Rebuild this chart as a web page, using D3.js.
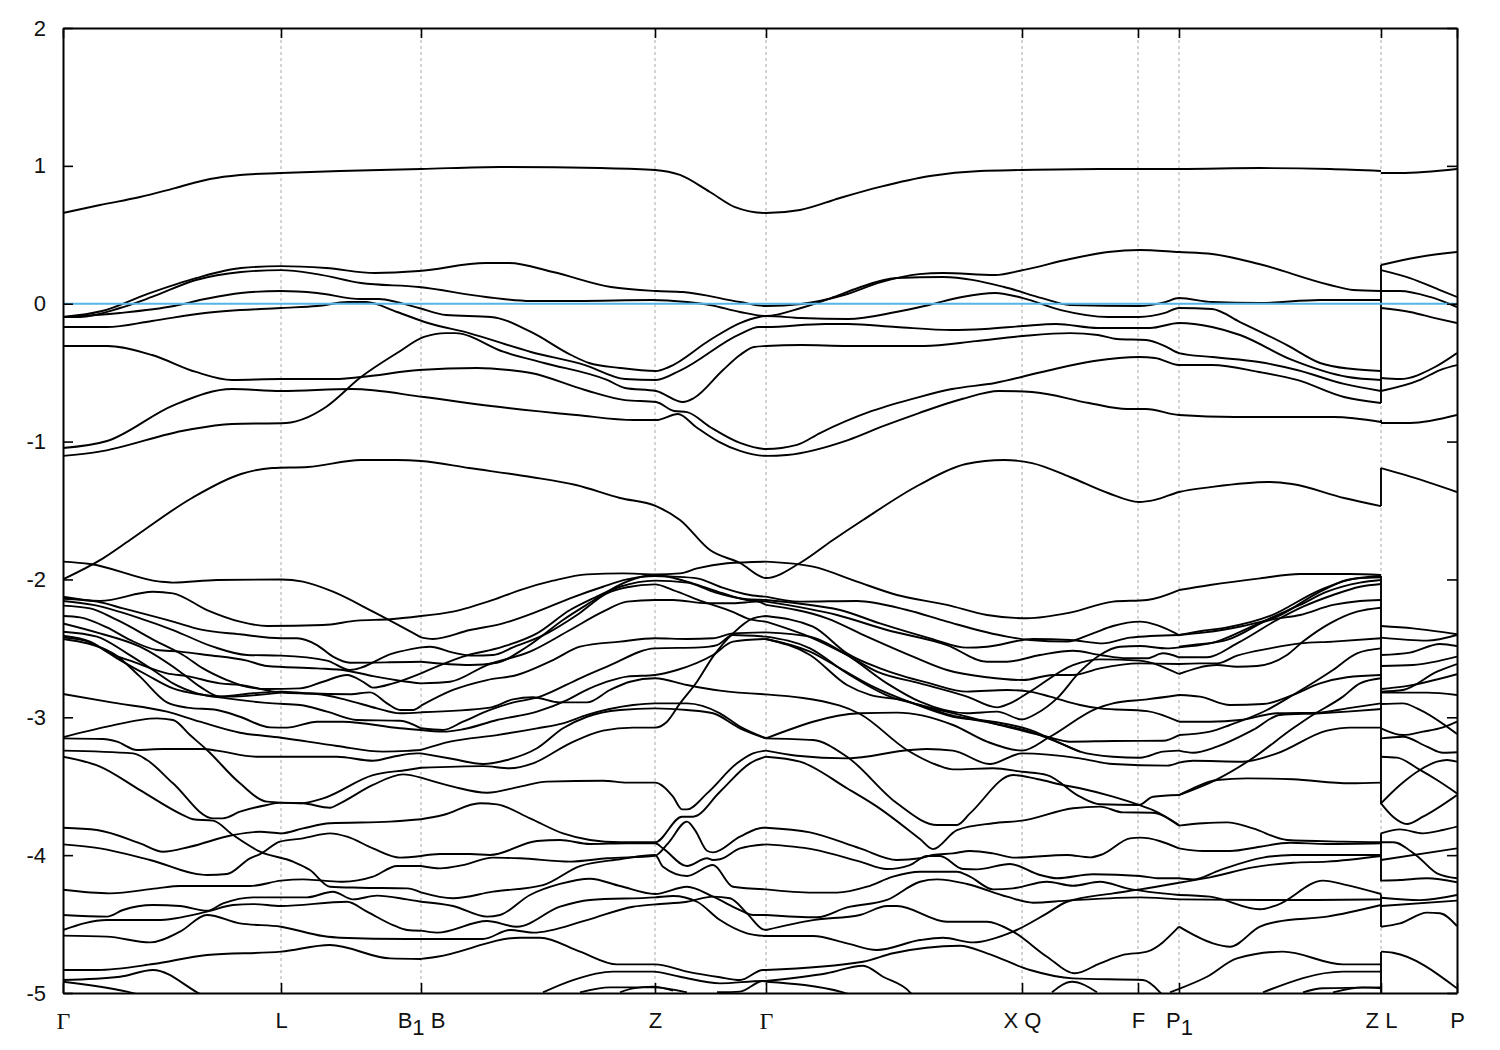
<!DOCTYPE html>
<html><head><meta charset="utf-8">
<script src="https://cdn.jsdelivr.net/npm/d3@7"></script>
<style>html,body{margin:0;background:#fff}svg{display:block}</style></head><body>
<div id="c"></div>
<script>
const kTicks=[0,218,358,592,703,959,1075,1116,1318,1394];
const kLabels=["Γ","L","B1 B","Z","Γ","X Q","F","P1","Z L","P"];
const eTicks=[2,1,0,-1,-2,-3,-4,-5];
const fermi=0;
const upperBands=[
[[0,.658],[37,.716],[77,.774],[112,.839],[147,.905],[177,.934],[218,.948],[277,.963],[358,.977],[437,.992],[537,.984],[592,.970],[617,.934],[647,.810],[672,.701],[703,.658],[737,.680],[777,.767],[817,.847],[867,.926],[917,.963],[959,.970],[1037,.977],[1116,.977],[1197,.984],[1267,.977],[1318,.963]],
[[0,-.096],[39,-.053],[84,.070],[133,.186],[178,.259],[218,.273],[263,.259],[312,.223],[356,.237],[423,.295],[446,.295],[490,.230],[548,.121],[593,.092],[620,.085],[677,.012],[703,-.017],[738,-.002],[781,.063],[818,.157],[856,.215],[880,.223],[932,.208],[960,.244],[1007,.324],[1045,.375],[1076,.390],[1116,.375],[1149,.361],[1196,.288],[1267,.136],[1290,.099],[1318,.092]],
[[0,-.096],[17,-.096],[57,-.031],[89,.049],[133,.172],[178,.230],[218,.244],[254,.215],[298,.150],[356,.121],[423,.049],[468,.020],[513,.020],[589,.027],[624,.012],[647,-.009],[677,-.060],[703,-.089],[738,-.031],[771,.049],[795,.114],[833,.186],[880,.194],[941,.121],[979,.041],[1007,-.009],[1076,-.017],[1102,.012],[1116,.041],[1149,.012],[1196,.005],[1257,.027],[1318,.027]],
[[0,-.096],[57,-.067],[111,-.017],[142,.034],[178,.078],[218,.092],[254,.078],[298,.034],[316,.034],[334,.012],[356,-.031],[383,-.082],[428,-.096],[468,-.205],[508,-.372],[526,-.430],[557,-.466],[593,-.488],[606,-.459],[647,-.263],[677,-.140],[696,-.096],[703,-.089],[738,-.104],[785,-.111],[833,-.060],[866,-.009],[899,.049],[932,.078],[960,.041],[998,-.046],[1045,-.096],[1076,-.096],[1102,-.067],[1116,-.031],[1149,-.038],[1177,-.133],[1224,-.300],[1257,-.430],[1290,-.474],[1318,-.488]],
[[0,-.169],[44,-.169],[89,-.125],[142,-.067],[218,-.031],[254,-.017],[285,.012],[303,.012],[334,-.060],[365,-.140],[406,-.213],[468,-.350],[522,-.445],[562,-.546],[593,-.553],[618,-.481],[677,-.220],[696,-.169],[703,-.169],[762,-.147],[785,-.147],[833,-.169],[889,-.191],[922,-.183],[960,-.162],[993,-.147],[1035,-.176],[1087,-.176],[1116,-.140],[1149,-.169],[1177,-.227],[1229,-.408],[1285,-.532],[1318,-.553]],
[[0,-.307],[44,-.307],[89,-.372],[133,-.495],[169,-.553],[218,-.546],[272,-.546],[298,-.532],[356,-.481],[414,-.466],[446,-.481],[468,-.503],[522,-.626],[562,-.699],[593,-.713],[611,-.778],[624,-.786],[647,-.894],[677,-1.010],[703,-1.054],[734,-1.024],[757,-.938],[809,-.778],[856,-.677],[889,-.619],[932,-.575],[979,-.495],[1031,-.416],[1076,-.387],[1092,-.394],[1116,-.445],[1149,-.445],[1196,-.495],[1234,-.553],[1281,-.677],[1318,-.720]],
[[0,-1.104],[35,-1.075],[124,-.916],[169,-.873],[223,-.865],[245,-.822],[263,-.749],[298,-.532],[334,-.358],[361,-.241],[383,-.213],[392,-.213],[441,-.350],[481,-.430],[544,-.553],[562,-.611],[593,-.633],[620,-.713],[631,-.684],[660,-.481],[677,-.372],[691,-.314],[703,-.307],[738,-.300],[785,-.307],[861,-.307],[913,-.271],[960,-.234],[1007,-.213],[1035,-.227],[1054,-.256],[1083,-.263],[1102,-.307],[1116,-.358],[1149,-.387],[1196,-.423],[1234,-.481],[1281,-.582],[1318,-.633]],
[[0,-1.047],[44,-.996],[111,-.735],[169,-.619],[218,-.633],[289,-.619],[361,-.677],[428,-.742],[513,-.807],[571,-.844],[593,-.844],[615,-.800],[633,-.894],[656,-1.002],[677,-1.068],[703,-1.104],[724,-1.097],[785,-.989],[818,-.894],[856,-.793],[899,-.691],[936,-.633],[969,-.640],[1026,-.720],[1064,-.764],[1083,-.764],[1116,-.807],[1172,-.822],[1271,-.822],[1318,-.858]],
[[0,-1.999],[40,-1.847],[67,-1.714],[129,-1.409],[178,-1.235],[209,-1.192],[245,-1.184],[298,-1.134],[334,-1.134],[358,-1.141],[406,-1.192],[468,-1.257],[513,-1.315],[557,-1.409],[593,-1.468],[617,-1.569],[647,-1.787],[677,-1.881],[703,-1.990],[737,-1.881],[770,-1.714],[800,-1.569],[856,-1.315],[903,-1.163],[941,-1.134],[969,-1.156],[1007,-1.257],[1045,-1.373],[1076,-1.438],[1092,-1.423],[1116,-1.366],[1149,-1.329],[1205,-1.293],[1229,-1.308],[1281,-1.409],[1318,-1.468]]
];
const gammaToB=[
[[0,-1.871],[27,-1.888],[97,-2.016],[110,-2.023],[154,-2.004],[218,-2.000],[240,-2.016],[270,-2.089],[310,-2.234],[358,-2.420]],
[[0,-2.125],[37,-2.156],[90,-2.089],[110,-2.101],[144,-2.222],[177,-2.306],[204,-2.338],[260,-2.331],[294,-2.299],[327,-2.289],[358,-2.265]],
[[0,-2.140],[34,-2.161],[60,-2.210],[110,-2.306],[137,-2.362],[177,-2.398],[218,-2.427],[234,-2.427],[254,-2.476],[270,-2.560],[287,-2.604],[327,-2.601],[358,-2.597]],
[[0,-2.156],[30,-2.185],[77,-2.282],[110,-2.367],[150,-2.488],[184,-2.548],[218,-2.553],[264,-2.589],[287,-2.657],[330,-2.536],[358,-2.493]],
[[0,-2.190],[27,-2.210],[54,-2.294],[94,-2.451],[120,-2.548],[140,-2.645],[164,-2.730],[177,-2.766],[204,-2.795],[237,-2.790],[260,-2.742],[284,-2.693],[300,-2.742],[310,-2.785],[330,-2.754],[358,-2.681]],
[[0,-2.265],[17,-2.275],[44,-2.348],[67,-2.439],[94,-2.512],[117,-2.524],[144,-2.548],[184,-2.589],[204,-2.628],[254,-2.645],[284,-2.662],[310,-2.701],[344,-2.742],[358,-2.754]],
[[0,-2.319],[37,-2.391],[77,-2.488],[117,-2.669],[137,-2.778],[157,-2.850],[190,-2.826],[218,-2.814],[244,-2.826],[287,-2.833],[307,-2.819],[324,-2.899],[337,-2.947],[350,-2.947],[358,-2.916]],
[[0,-2.379],[34,-2.415],[64,-2.536],[90,-2.657],[110,-2.754],[134,-2.826],[164,-2.863],[210,-2.899],[237,-2.911],[264,-2.959],[294,-3.020],[337,-3.025],[358,-3.080]],
[[0,-2.408],[27,-2.451],[47,-2.536],[70,-2.597],[104,-2.681],[124,-2.701],[157,-2.754],[177,-2.766],[218,-2.821],[254,-2.831],[284,-2.875],[314,-2.935],[337,-2.971],[358,-2.964]],
[[0,-2.420],[27,-2.456],[57,-2.585],[84,-2.693],[110,-2.790],[134,-2.831],[164,-2.850],[218,-2.821]],
[[0,-2.432],[50,-2.536],[77,-2.705],[104,-2.892],[124,-2.930],[154,-2.947],[177,-2.996],[207,-3.073],[224,-3.075],[254,-3.032],[280,-3.032],[337,-3.080],[358,-3.092]],
[[0,-2.831],[50,-2.894],[104,-2.959],[137,-3.032],[177,-3.112],[218,-3.148],[274,-3.208],[320,-3.249],[344,-3.244],[358,-3.237]],
[[0,-3.153],[40,-3.158],[54,-3.177],[74,-3.237],[100,-3.230],[140,-3.230],[154,-3.242],[194,-3.286],[274,-3.286],[310,-3.315],[330,-3.286],[354,-3.262],[358,-3.262]],
[[0,-3.145],[44,-3.068],[94,-3.008],[110,-3.020],[127,-3.129],[144,-3.237],[177,-3.479],[204,-3.612],[237,-3.624],[260,-3.588],[310,-3.419],[344,-3.382],[358,-3.366]],
[[0,-3.242],[70,-3.262],[84,-3.310],[110,-3.479],[150,-3.733],[160,-3.733],[177,-3.685],[204,-3.636],[218,-3.619],[240,-3.624],[267,-3.656],[277,-3.624],[310,-3.491],[340,-3.414],[358,-3.438]],
[[0,-3.286],[37,-3.358],[77,-3.528],[120,-3.709],[130,-3.740],[150,-3.750],[170,-3.854],[197,-3.975],[230,-4.047],[247,-4.108],[267,-4.229],[297,-4.236],[344,-4.241],[358,-4.270]],
[[0,-3.801],[34,-3.818],[77,-3.914],[100,-3.975],[127,-3.939],[170,-3.854],[197,-3.830],[218,-3.842],[240,-3.806],[267,-3.769],[327,-3.757],[358,-3.740]],
[[0,-3.922],[37,-3.951],[87,-4.035],[144,-4.144],[164,-4.137],[187,-4.023],[197,-3.992],[217,-3.902],[240,-3.878],[267,-3.842],[284,-3.866],[310,-3.951],[337,-4.018],[358,-4.006]],
[[0,-4.251],[47,-4.277],[94,-4.241],[117,-4.224],[187,-4.224],[218,-4.185],[240,-4.176],[260,-4.185],[280,-4.193],[310,-4.156],[334,-4.079],[358,-4.079]],
[[0,-4.434],[44,-4.446],[60,-4.398],[90,-4.362],[117,-4.369],[144,-4.403],[160,-4.350],[190,-4.306],[244,-4.306],[270,-4.265],[290,-4.321],[314,-4.294],[344,-4.321],[358,-4.338]],
[[0,-4.543],[44,-4.471],[94,-4.471],[144,-4.410],[170,-4.362],[190,-4.355],[218,-4.369],[284,-4.338],[304,-4.410],[330,-4.507],[344,-4.543],[358,-4.548]],
[[0,-4.584],[44,-4.591],[87,-4.633],[117,-4.555],[144,-4.434],[177,-4.495],[218,-4.519],[260,-4.587],[277,-4.599],[344,-4.608],[358,-4.608]],
[[0,-4.833],[34,-4.833],[90,-4.790],[144,-4.724],[218,-4.700],[267,-4.652],[327,-4.749],[358,-4.753]],
[[0,-4.906],[57,-4.882],[90,-4.833],[134,-4.995],[140,-5.02]],
[[0,-4.918],[64,-4.990],[80,-5.02]]
];
const bToGamma=[
[[358,-2.265],[390,-2.234],[430,-2.149],[457,-2.077],[490,-2.009],[524,-1.963],[560,-1.956],[592,-1.963],[617,-1.956],[634,-1.920],[664,-1.883],[703,-1.871]],
[[358,-2.420],[370,-2.432],[407,-2.367],[440,-2.319],[474,-2.234],[507,-2.137],[540,-2.053],[564,-2.000],[592,-1.975],[610,-1.980],[634,-1.992],[657,-2.053],[687,-2.113],[703,-2.125]],
[[358,-2.597],[407,-2.621],[434,-2.604],[464,-2.488],[500,-2.294],[534,-2.137],[547,-2.077],[592,-1.968],[624,-2.016],[650,-2.077],[684,-2.149],[703,-2.161]],
[[358,-2.681],[400,-2.560],[440,-2.488],[474,-2.391],[507,-2.222],[530,-2.137],[557,-2.053],[592,-2.009],[624,-2.023],[650,-2.089],[684,-2.144],[703,-2.149]],
[[358,-2.493],[367,-2.488],[390,-2.531],[410,-2.553],[430,-2.548],[450,-2.493],[484,-2.391],[514,-2.258],[544,-2.101],[564,-2.057],[592,-2.036],[610,-2.077],[640,-2.161],[669,-2.234],[684,-2.282],[703,-2.306]],
[[358,-2.754],[387,-2.742],[424,-2.621],[467,-2.524],[507,-2.367],[540,-2.234],[564,-2.161],[592,-2.149],[610,-2.149],[644,-2.173],[670,-2.173],[694,-2.161],[703,-2.185]],
[[358,-2.916],[390,-2.802],[424,-2.730],[454,-2.693],[490,-2.585],[517,-2.488],[557,-2.451],[592,-2.427],[624,-2.432],[650,-2.427],[670,-2.391],[703,-2.384]],
[[358,-2.964],[427,-2.930],[450,-2.870],[470,-2.855],[497,-2.892],[524,-2.892],[547,-2.802],[567,-2.742],[592,-2.717],[624,-2.766],[657,-2.807],[703,-2.834]],
[[358,-3.080],[380,-3.092],[400,-3.032],[427,-2.947],[447,-2.899],[477,-2.850],[517,-2.717],[544,-2.633],[592,-2.500],[637,-2.493],[654,-2.476],[670,-2.403],[703,-2.415]],
[[358,-3.092],[380,-3.104],[400,-3.087],[434,-3.020],[474,-2.959],[504,-2.875],[520,-2.814],[544,-2.742],[564,-2.705],[592,-2.693],[614,-2.657],[650,-2.548],[670,-2.451],[703,-2.432]],
[[358,-3.237],[387,-3.177],[434,-3.129],[474,-3.080],[500,-3.044],[524,-2.983],[570,-2.911],[592,-2.899],[624,-2.899],[657,-2.971],[677,-3.068],[703,-3.153]],
[[358,-3.262],[390,-3.303],[420,-3.339],[444,-3.310],[474,-3.225],[500,-3.080],[524,-2.996],[557,-2.947],[592,-2.935],[624,-2.947],[650,-2.971],[677,-3.080],[703,-3.153]],
[[358,-3.366],[420,-3.354],[447,-3.370],[470,-3.334],[507,-3.189],[540,-3.097],[570,-3.075],[592,-3.075],[604,-3.032],[617,-2.899],[634,-2.742],[650,-2.560],[670,-2.391],[690,-2.282],[703,-2.265]],
[[358,-3.438],[390,-3.503],[424,-3.547],[457,-3.503],[484,-3.467],[540,-3.460],[564,-3.474],[592,-3.474],[610,-3.576],[619,-3.668],[624,-3.668],[644,-3.552],[674,-3.334],[690,-3.262],[703,-3.242]],
[[358,-3.740],[380,-3.709],[417,-3.624],[434,-3.632],[467,-3.733],[500,-3.842],[527,-3.890],[557,-3.907],[592,-3.907],[619,-3.721],[630,-3.721],[657,-3.540],[687,-3.334],[703,-3.286]],
[[358,-4.006],[377,-3.992],[407,-3.992],[427,-3.999],[474,-3.897],[497,-3.890],[527,-3.919],[564,-3.914],[592,-3.914],[600,-3.951],[624,-4.079],[644,-4.023],[650,-4.035],[657,-4.030],[677,-3.951],[703,-3.922]],
[[358,-4.079],[377,-4.096],[400,-4.072],[430,-4.018],[457,-4.023],[507,-4.047],[544,-4.023],[592,-4.004],[605,-3.914],[624,-3.757],[632,-3.818],[644,-3.968],[650,-3.980],[677,-3.866],[700,-3.801],[703,-3.801]],
[[358,-4.270],[390,-4.313],[430,-4.265],[480,-4.217],[517,-4.079],[557,-4.030],[592,-3.999],[600,-4.084],[624,-4.151],[650,-4.072],[670,-4.229],[703,-4.248]],
[[358,-4.338],[390,-4.369],[424,-4.446],[437,-4.434],[467,-4.289],[497,-4.209],[527,-4.171],[557,-4.224],[592,-4.282],[624,-4.229],[650,-4.301],[677,-4.398],[690,-4.434],[703,-4.434]],
[[358,-4.548],[374,-4.562],[424,-4.478],[454,-4.519],[497,-4.374],[527,-4.325],[592,-4.306],[610,-4.296],[634,-4.338],[657,-4.471],[684,-4.567],[703,-4.587]],
[[358,-4.608],[420,-4.608],[447,-4.543],[470,-4.562],[524,-4.471],[570,-4.374],[592,-4.357],[624,-4.338],[650,-4.301],[667,-4.313],[684,-4.422],[700,-4.538],[703,-4.543]],
[[358,-4.753],[374,-4.737],[457,-4.599],[477,-4.599],[517,-4.700],[554,-4.792],[592,-4.792],[624,-4.845],[657,-4.886],[677,-4.906],[700,-4.833],[703,-4.833]],
[[480,-4.995],[510,-4.906],[550,-4.845],[590,-4.845],[617,-4.882],[657,-4.930],[700,-4.913],[703,-4.913]],
[[517,-4.995],[547,-4.959],[590,-4.959],[624,-4.995]],
[[557,-4.995],[570,-4.966],[590,-4.954],[610,-4.983]],
[[654,-4.995],[677,-4.990],[700,-4.913],[703,-4.918]]
];
const gammaToP=[
[[703,-1.871],[750,-1.907],[794,-2.016],[834,-2.113],[884,-2.185],[924,-2.258],[964,-2.282],[1007,-2.241],[1050,-2.161],[1084,-2.149],[1116,-2.077]],
[[703,-2.125],[737,-2.161],[794,-2.156],[844,-2.222],[884,-2.306],[944,-2.415],[967,-2.439],[1004,-2.451],[1030,-2.391],[1050,-2.338],[1077,-2.306],[1094,-2.331],[1116,-2.403]],
[[703,-2.149],[734,-2.173],[777,-2.222],[817,-2.319],[867,-2.427],[904,-2.495],[924,-2.488],[970,-2.432],[1007,-2.439],[1040,-2.464],[1067,-2.422],[1116,-2.403]],
[[703,-2.161],[774,-2.258],[824,-2.367],[884,-2.476],[924,-2.597],[944,-2.597],[977,-2.548],[1010,-2.517],[1037,-2.548],[1064,-2.572],[1084,-2.572],[1100,-2.536],[1116,-2.565]],
[[703,-2.185],[764,-2.282],[804,-2.415],[850,-2.560],[884,-2.657],[924,-2.710],[960,-2.730],[990,-2.693],[1010,-2.693],[1037,-2.645],[1076,-2.609],[1116,-2.613]],
[[703,-2.265],[750,-2.343],[784,-2.536],[817,-2.645],[867,-2.754],[904,-2.814],[944,-2.802],[967,-2.814],[987,-2.850],[1017,-2.911],[1037,-2.935],[1084,-2.955],[1116,-3.032]],
[[703,-2.306],[750,-2.427],[784,-2.548],[814,-2.669],[857,-2.754],[904,-2.850],[934,-2.928],[947,-2.899],[967,-2.814],[1010,-2.621],[1037,-2.580],[1076,-2.589],[1116,-2.686]],
[[703,-2.384],[747,-2.415],[784,-2.548],[824,-2.754],[857,-2.887],[904,-2.971],[934,-2.959],[959,-3.015],[974,-2.971],[994,-2.863],[1017,-2.669],[1037,-2.548],[1057,-2.488],[1077,-2.483],[1104,-2.500],[1116,-2.493]],
[[703,-2.415],[747,-2.500],[784,-2.681],[827,-2.850],[857,-2.911],[904,-2.996],[950,-3.080],[984,-3.141],[1007,-3.177],[1050,-3.172],[1100,-3.170],[1116,-3.129]],
[[703,-2.432],[747,-2.524],[777,-2.645],[810,-2.778],[850,-2.899],[890,-2.996],[930,-3.032],[967,-3.092],[987,-3.153],[1017,-3.249],[1050,-3.286],[1077,-3.293],[1100,-3.249],[1116,-3.242]],
[[703,-2.432],[747,-2.548],[784,-2.766],[807,-2.838],[840,-2.875],[887,-2.983],[930,-3.044],[967,-3.104],[987,-3.158],[1017,-3.249]],
[[703,-2.834],[777,-2.916],[797,-2.976],[844,-3.237],[874,-3.346],[890,-3.378],[930,-3.370],[959,-3.395],[984,-3.419],[1017,-3.576],[1037,-3.631],[1076,-3.636],[1090,-3.576],[1116,-3.564]],
[[703,-3.153],[797,-2.971],[834,-2.966],[890,-3.056],[924,-3.177],[959,-3.242],[987,-3.141],[1034,-2.935],[1050,-2.899],[1084,-2.870],[1116,-2.838]],
[[703,-3.153],[750,-3.165],[784,-3.286],[834,-3.624],[874,-3.781],[894,-3.781],[907,-3.697],[950,-3.419],[974,-3.448],[1000,-3.491],[1017,-3.515],[1050,-3.576],[1076,-3.636],[1090,-3.673],[1116,-3.781]],
[[703,-3.242],[734,-3.279],[784,-3.298],[847,-3.237],[864,-3.230],[890,-3.242],[927,-3.339],[959,-3.262],[1017,-3.298],[1050,-3.339],[1104,-3.351],[1116,-3.329]],
[[703,-3.286],[737,-3.322],[784,-3.515],[814,-3.648],[857,-3.883],[870,-3.956],[894,-3.818],[930,-3.769],[959,-3.750],[1010,-3.660],[1037,-3.648],[1060,-3.690],[1089,-3.692],[1116,-3.786]],
[[703,-3.801],[747,-3.835],[797,-3.951],[834,-4.035],[857,-4.023],[870,-3.999],[890,-3.987],[907,-3.970],[930,-3.987],[952,-4.018],[1004,-3.999],[1027,-4.016],[1040,-3.992],[1067,-3.878],[1077,-3.873],[1116,-3.951]],
[[703,-3.922],[750,-3.958],[797,-4.047],[824,-4.101],[847,-4.072],[864,-4.006],[877,-4.006],[900,-4.101],[914,-4.103],[947,-4.064],[977,-4.144],[994,-4.168],[1030,-4.139],[1077,-4.151],[1097,-4.168],[1116,-4.168]],
[[703,-4.248],[750,-4.272],[774,-4.272],[804,-4.229],[830,-4.156],[857,-4.120],[894,-4.120],[907,-4.156],[930,-4.248],[950,-4.241],[984,-4.193],[1010,-4.222],[1037,-4.193],[1064,-4.241],[1116,-4.289]],
[[703,-4.434],[754,-4.451],[784,-4.379],[824,-4.325],[857,-4.193],[874,-4.176],[904,-4.209],[944,-4.301],[970,-4.345],[1004,-4.330],[1077,-4.306],[1116,-4.321]],
[[703,-4.543],[750,-4.471],[797,-4.434],[824,-4.369],[834,-4.369],[884,-4.483],[924,-4.483],[950,-4.555],[984,-4.737],[1012,-4.857],[1037,-4.785],[1060,-4.724],[1084,-4.700],[1116,-4.519]],
[[703,-4.587],[750,-4.587],[784,-4.640],[814,-4.688],[857,-4.616],[880,-4.599],[910,-4.633],[950,-4.555],[984,-4.422],[1004,-4.338],[1050,-4.277],[1077,-4.248],[1116,-4.200]],
[[703,-4.833],[800,-4.773],[830,-4.712],[897,-4.657],[924,-4.712],[967,-4.833],[1010,-4.894],[1080,-4.906],[1097,-4.995],[1100,-5.02]],
[[703,-4.913],[764,-4.857],[800,-4.802],[820,-4.882],[847,-4.995],[850,-5.02]],
[[703,-4.918],[780,-4.995],[790,-5.02]],
[[989,-4.995],[1009,-4.918],[1034,-4.995]],
[[1107,-4.995],[1116,-4.970]]
];
const pToZ=[
[[1116,-2.077],[1147,-2.040],[1197,-1.992],[1237,-1.961],[1287,-1.961],[1318,-1.968]],
[[1116,-2.403],[1140,-2.386],[1180,-2.338],[1214,-2.270],[1254,-2.101],[1284,-2.004],[1318,-1.975]],
[[1116,-2.403],[1140,-2.372],[1164,-2.348],[1207,-2.265],[1257,-2.077],[1294,-1.992],[1318,-1.985]],
[[1116,-2.488],[1130,-2.476],[1164,-2.439],[1207,-2.282],[1237,-2.185],[1264,-2.089],[1297,-2.023],[1318,-2.004]],
[[1116,-2.493],[1147,-2.464],[1207,-2.294],[1237,-2.258],[1270,-2.185],[1297,-2.156],[1318,-2.149]],
[[1116,-2.565],[1144,-2.565],[1174,-2.464],[1214,-2.294],[1240,-2.198],[1270,-2.113],[1297,-2.053],[1318,-2.033]],
[[1116,-2.613],[1137,-2.609],[1154,-2.609],[1174,-2.553],[1207,-2.500],[1237,-2.464],[1270,-2.451],[1318,-2.427]],
[[1116,-2.686],[1154,-2.621],[1174,-2.633],[1194,-2.628],[1224,-2.548],[1240,-2.451],[1267,-2.319],[1294,-2.234],[1318,-2.205]],
[[1116,-2.838],[1137,-2.850],[1167,-2.911],[1200,-2.904],[1230,-2.838],[1257,-2.754],[1284,-2.710],[1318,-2.693]],
[[1116,-3.032],[1147,-3.032],[1177,-3.020],[1214,-2.971],[1257,-2.966],[1284,-2.935],[1318,-2.899]],
[[1116,-3.129],[1147,-3.104],[1167,-3.056],[1204,-2.947],[1230,-2.838],[1270,-2.657],[1294,-2.536],[1318,-2.500]],
[[1116,-3.242],[1130,-3.257],[1154,-3.213],[1190,-3.092],[1217,-2.983],[1257,-2.971],[1284,-2.959],[1318,-2.940]],
[[1116,-3.329],[1130,-3.315],[1180,-3.322],[1214,-3.262],[1264,-3.097],[1287,-3.075],[1318,-3.075]],
[[1116,-3.564],[1130,-3.515],[1154,-3.455],[1184,-3.443],[1230,-3.450],[1287,-3.479],[1318,-3.474]],
[[1116,-3.564],[1154,-3.450],[1187,-3.310],[1230,-3.080],[1247,-2.996],[1280,-2.850],[1297,-2.754],[1318,-2.717]],
[[1116,-3.786],[1140,-3.769],[1164,-3.762],[1190,-3.806],[1224,-3.890],[1280,-3.902],[1318,-3.907]],
[[1116,-3.951],[1140,-3.970],[1167,-3.970],[1197,-3.939],[1227,-3.910],[1264,-3.919],[1318,-3.914]],
[[1116,-4.168],[1130,-4.176],[1157,-4.108],[1200,-4.018],[1230,-3.999],[1318,-3.999]],
[[1116,-4.200],[1147,-4.161],[1190,-4.089],[1230,-4.055],[1264,-4.047],[1318,-4.006]],
[[1116,-4.289],[1147,-4.301],[1197,-4.393],[1214,-4.362],[1260,-4.185],[1284,-4.217],[1318,-4.282]],
[[1116,-4.321],[1197,-4.325],[1254,-4.325],[1318,-4.321]],
[[1116,-4.519],[1150,-4.640],[1167,-4.664],[1197,-4.519],[1214,-4.483],[1264,-4.446],[1318,-4.362]],
[[1116,-4.970],[1144,-4.882],[1174,-4.749],[1220,-4.700],[1280,-4.792],[1318,-4.792]],
[[1200,-4.995],[1280,-4.845],[1318,-4.845]],
[[1240,-4.995],[1260,-4.966],[1318,-4.959]],
[[1270,-4.995],[1300,-4.959],[1318,-4.966]]
];
const lToP=[
[[1318,.948],[1337,.948],[1394,.977]],
[[1318,.281],[1356,.339],[1394,.375]],
[[1318,.244],[1347,.186],[1377,.099],[1394,.049]],
[[1318,.092],[1337,.092],[1367,.049],[1394,-.024]],
[[1318,-.031],[1347,-.060],[1372,-.104],[1394,-.140]],
[[1318,-.539],[1337,-.546],[1372,-.459],[1394,-.358]],
[[1318,-.633],[1357,-.553],[1377,-.481],[1394,-.445]],
[[1318,-.865],[1347,-.865],[1394,-.807]],
[[1318,-1.192],[1342,-1.242],[1394,-1.366]],
[[1318,-2.338],[1350,-2.355],[1394,-2.398]],
[[1318,-2.422],[1364,-2.444],[1394,-2.403]],
[[1318,-2.548],[1347,-2.531],[1377,-2.468],[1394,-2.483]],
[[1318,-2.628],[1350,-2.621],[1394,-2.560]],
[[1318,-2.795],[1340,-2.778],[1394,-2.688]],
[[1318,-2.814],[1340,-2.802],[1374,-2.669],[1394,-2.614]],
[[1318,-2.821],[1364,-2.821],[1394,-2.838]],
[[1318,-2.904],[1340,-2.899],[1354,-2.935],[1394,-3.121]],
[[1318,-3.080],[1340,-3.129],[1360,-3.104],[1380,-3.073],[1394,-3.032]],
[[1318,-3.153],[1340,-3.141],[1364,-3.213],[1380,-3.257],[1394,-3.254]],
[[1318,-3.286],[1334,-3.293],[1357,-3.382],[1374,-3.455],[1394,-3.552]],
[[1318,-3.624],[1337,-3.491],[1357,-3.382],[1374,-3.322],[1384,-3.310],[1394,-3.322]],
[[1318,-3.624],[1330,-3.721],[1344,-3.774],[1360,-3.721],[1394,-3.564]],
[[1318,-3.842],[1337,-3.813],[1360,-3.842],[1380,-3.818],[1394,-3.793]],
[[1318,-3.907],[1330,-3.907],[1354,-4.006],[1374,-4.132],[1394,-4.168]],
[[1318,-4.035],[1394,-3.951]],
[[1318,-4.185],[1337,-4.180],[1364,-4.168],[1394,-4.197]],
[[1318,-4.309],[1357,-4.326],[1394,-4.289]],
[[1318,-4.369],[1394,-4.330]],
[[1318,-4.519],[1337,-4.495],[1364,-4.417],[1377,-4.422],[1394,-4.514]],
[[1318,-4.700],[1330,-4.708],[1394,-4.966]]
];
const jumpK=1318;
const jumps=[[.281,-.720],[-.844,-.865],[-1.192,-1.468],[-1.976,-3.630],[-3.841,-4.189],[-4.283,-4.521],[-4.702,-5]];

const W=1500,H=1050,mLeft=63,mRight=1457,mTop=28,mBottom=993;
const x=d3.scaleLinear().domain([0,1394]).range([mLeft,mRight]);
const y=d3.scaleLinear().domain([-5,2]).range([mBottom,mTop]);
const svg=d3.select("#c").append("svg").attr("width",W).attr("height",H).attr("viewBox",`0 0 ${W} ${H}`);
const font="'Liberation Sans',Arial,sans-serif";
svg.append("clipPath").attr("id","frame").append("rect").attr("x",mLeft).attr("y",mTop).attr("width",mRight-mLeft).attr("height",mBottom-mTop);

svg.append("g").selectAll("line").data(kTicks.slice(1,-1)).join("line")
 .attr("x1",d=>x(d)).attr("x2",d=>x(d)).attr("y1",mTop).attr("y2",mBottom)
 .attr("stroke","#a8a8a8").attr("stroke-width",1).attr("stroke-dasharray","3,3");

const line=d3.line().x(d=>x(d[0])).y(d=>y(d[1])).curve(d3.curveMonotoneX);
const plot=svg.append("g").attr("clip-path","url(#frame)");
[upperBands,gammaToB,bToGamma,gammaToP,pToZ,lToP].forEach(set=>{
 plot.append("g").selectAll("path").data(set).join("path")
  .attr("d",line).attr("fill","none").attr("stroke","#000").attr("stroke-width",1.9).attr("stroke-linejoin","round");
});
plot.append("g").selectAll("line").data(jumps).join("line")
 .attr("x1",x(jumpK)).attr("x2",x(jumpK)).attr("y1",d=>y(d[0])).attr("y2",d=>y(d[1]))
 .attr("stroke","#000").attr("stroke-width",1.9);
plot.append("line").attr("x1",mLeft).attr("x2",mRight).attr("y1",y(fermi)).attr("y2",y(fermi))
 .attr("stroke","#56b4e9").attr("stroke-width",2);

function styleAxis(g){g.selectAll(".domain").attr("stroke","#000").attr("stroke-width",2);g.selectAll(".tick line").attr("stroke","#000").attr("stroke-width",1.6);
 g.selectAll("text").attr("font-family",font).attr("font-size",22).attr("fill","#111");}
const fmt=d=>String(d);
svg.append("g").attr("transform",`translate(${mLeft},0)`).call(d3.axisLeft(y).tickValues(eTicks).tickFormat(fmt).tickSizeInner(-10).tickSizeOuter(0).tickPadding(17)).call(styleAxis);
svg.append("g").attr("transform",`translate(${mRight},0)`).call(d3.axisRight(y).tickValues(eTicks).tickFormat("").tickSizeInner(-10).tickSizeOuter(0)).call(styleAxis);
svg.append("g").attr("transform",`translate(0,${mTop})`).call(d3.axisTop(x).tickValues(kTicks).tickFormat("").tickSizeInner(-10).tickSizeOuter(0)).call(styleAxis);
const ax=svg.append("g").attr("transform",`translate(0,${mBottom})`).call(d3.axisBottom(x).tickValues(kTicks).tickFormat((d,i)=>kLabels[i]).tickSizeInner(-10).tickSizeOuter(0).tickPadding(19)).call(styleAxis);
ax.selectAll(".tick text").each(function(d,i){
 const t=d3.select(this),s=kLabels[i];t.text(null);
 if(s==="Γ"){t.attr("font-family","'Liberation Serif',serif").attr("font-size",24).text(s);return;}
 const m=s.match(/^([A-Z])1(.*)$/);
 if(m){t.append("tspan").text(m[1]);t.append("tspan").attr("dy",7).text("1");t.append("tspan").attr("dy",-7).text(m[2]);}
 else t.text(s);
});
</script></body></html>
